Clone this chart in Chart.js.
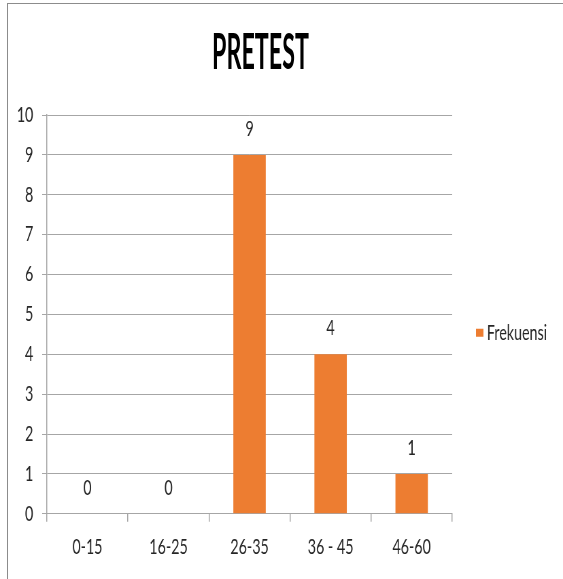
<!DOCTYPE html>
<html>
<head>
<meta charset="utf-8">
<script src="https://cdn.jsdelivr.net/npm/chart.js@4/dist/chart.umd.min.js"></script>
<style>
    html, body { margin: 0; padding: 0; background: #fff; overflow: hidden; }
    #frame {
        position: absolute; left: 7px; top: 3px; width: 600px; height: 620px;
        border-top: 1px solid #8c8c8c; border-left: 1px solid #8c8c8c;
    }
    #wrap { position: absolute; left: 0; top: 0; width: 563px; height: 579px; }
    /* canvas is drawn wide and squeezed to 563px for the narrow lettering */
    #chart { position: absolute; left: 0; top: 0; width: 563px; height: 579px; }
    #title {
        position: absolute; left: -21px; top: 24px; width: 563px; margin: 0;
        text-align: center; font-family: Lato, 'DejaVu Sans', sans-serif;
        font-weight: bold; font-size: 49px; line-height: 52px; color: #000;
        transform: scaleX(0.475); transform-origin: 281.5px 0;
    }
</style>
</head>
<body>
<div id="frame"></div>
<div id="wrap">
    <canvas id="chart" width="828" height="579" style="width:563px;height:579px"></canvas>
    <h1 id="title">PRETEST</h1>
</div>
<script>
    // data
    const categories = ['0-15', '16-25', '26-35', '36 - 45', '46-60'];
    const frekuensi = [0, 0, 9, 4, 1];
    const yTicks = [0, 1, 2, 3, 4, 5, 6, 7, 8, 9, 10];
    const seriesName = 'Frekuensi';

    const FONT = "Lato, 'DejaVu Sans', sans-serif";
    const ORANGE = '#ED7D31';
    const GRID = '#a6a6a6';
    const TEXT = '#262626';
    const SQUEEZE = 563 / 828;

    // nilai di atas batang
    const valueLabels = {
        id: 'valueLabels',
        afterDatasetsDraw(chart) {
            const ctx = chart.ctx;
            ctx.save();
            ctx.font = '21px ' + FONT;
            ctx.fillStyle = TEXT;
            ctx.textAlign = 'center';
            ctx.textBaseline = 'middle';
            chart.getDatasetMeta(0).data.forEach((bar, i) => {
                ctx.fillText(String(frekuensi[i]), bar.x, bar.y - 26);
            });
            ctx.restore();
        }
    };

    // legenda di sebelah kanan area plot
    const sideLegend = {
        id: 'sideLegend',
        afterDraw(chart) {
            const { ctx, chartArea } = chart;
            const ds = chart.data.datasets[0];
            const x = chartArea.right + 35;
            const y = chartArea.top + chartArea.height * 0.546;
            ctx.save();
            ctx.fillStyle = ds.backgroundColor;
            ctx.fillRect(x, y - 4, 11, 8);
            ctx.font = '21px ' + FONT;
            ctx.fillStyle = TEXT;
            ctx.textAlign = 'left';
            ctx.textBaseline = 'middle';
            ctx.fillText(ds.label, x + 16, y);
            ctx.restore();
        }
    };

    new Chart(document.getElementById('chart'), {
        type: 'bar',
        data: {
            labels: categories,
            datasets: [{
                label: seriesName,
                data: frekuensi,
                backgroundColor: ORANGE,
                borderWidth: 0,
                barPercentage: 0.4,
                categoryPercentage: 1
            }]
        },
        options: {
            responsive: false,
            animation: false,
            devicePixelRatio: 1,
            layout: { padding: { top: 115, bottom: 6, left: 10, right: 163 } },
            plugins: {
                title: { display: false },
                tooltip: { enabled: false },
                legend: { display: false }
            },
            scales: {
                x: {
                    grid: {
                        offset: true,
                        drawOnChartArea: false,
                        drawTicks: true,
                        tickLength: 8,
                        lineWidth: 1 / SQUEEZE,
                        color: GRID
                    },
                    border: { color: GRID },
                    ticks: {
                        padding: 13,
                        color: TEXT,
                        font: { family: FONT, size: 21 }
                    }
                },
                y: {
                    min: 0,
                    max: 10,
                    afterBuildTicks(axis) {
                        axis.ticks = yTicks.map(v => ({ value: v }));
                    },
                    afterFit(axis) {
                        axis.width = 59;
                    },
                    grid: {
                        color: GRID,
                        tickLength: 7
                    },
                    border: { color: GRID, width: 1 / SQUEEZE },
                    ticks: {
                        padding: 13,
                        color: TEXT,
                        font: { family: FONT, size: 21 }
                    }
                }
            }
        },
        plugins: [valueLabels, sideLegend]
    });
</script>
</body>
</html>
